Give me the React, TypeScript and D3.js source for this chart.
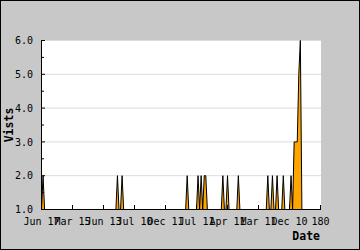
import React from "react";
import * as d3 from "d3";

const visits: number[] = [
  1, 2, 1, 1, 1, 1, 1, 1, 1, 1, 1, 1, 1, 1, 1, 1, 1, 1, 1, 1,
  1, 1, 1, 1, 1, 1, 1, 1, 1, 1, 1, 1, 1, 1, 1, 1, 1, 1, 1, 1,
  1, 1, 1, 1, 1, 1, 1, 1, 1, 2, 1, 1, 2, 1, 1, 1, 1, 1, 1, 1,
  1, 1, 1, 1, 1, 1, 1, 1, 1, 1, 1, 1, 1, 1, 1, 1, 1, 1, 1, 1,
  1, 1, 1, 1, 1, 1, 1, 1, 1, 1, 1, 1, 1, 1, 2, 1, 1, 1, 1, 1,
  1, 2, 1, 2, 1, 2, 2, 1, 1, 1, 1, 1, 1, 1, 1, 1, 1, 2, 1, 1,
  2, 1, 1, 1, 1, 1, 1, 2, 1, 1, 1, 1, 1, 1, 1, 1, 1, 1, 1, 1,
  1, 1, 1, 1, 1, 1, 2, 1, 1, 2, 1, 1, 2, 1, 1, 1, 2, 1, 1, 1,
  1, 2, 1, 3, 3, 3, 5, 6, 1,
];

const xTickValues: number[] = [0, 20, 40, 60, 80, 100, 120, 140, 160, 180];
const xTickLabels: string[] = [
  "Jun 17", "Mar 15", "Jun 13", "Jul 10", "Dec 11",
  "Jul 11", "Apr 11", "Mar 11", "Dec 10", "180",
];
const yTickValues: number[] = [1, 2, 3, 4, 5, 6];
const yMinorValues: number[] = [1.5, 2.5, 3.5, 4.5, 5.5];
const yTitle = "Vists";
const xTitle = "Date";

export default function App() {
  const W = 360;
  const H = 250;
  const x = d3.scaleLinear().domain([0, 180]).range([41.5, 320.5]);
  const y = d3.scaleLinear().domain([1, 6]).range([209.5, 40.5]);
  const pts = visits.map((v, i) => [i, v] as [number, number]);
  const area = d3
    .area<[number, number]>()
    .x((d) => x(d[0]))
    .y0(y(1))
    .y1((d) => y(d[1]));
  const line = d3
    .line<[number, number]>()
    .x((d) => x(d[0]))
    .y((d) => y(d[1]));
  const font = "'DejaVu Sans Mono', monospace";

  return (
    <svg
      width={W}
      height={H}
      style={{ position: "absolute", left: 0, top: 0 }}
      xmlns="http://www.w3.org/2000/svg"
    >
      <rect x={0} y={0} width={W} height={H} fill="#c8c8c8" />
      <rect x={0.5} y={0.5} width={W - 1} height={H - 1} fill="none" stroke="#000" />
      <rect x={41} y={40} width={280} height={170} fill="#fff" />
      {yTickValues.slice(1).map((v) => (
        <line key={"g" + v} x1={41} x2={321} y1={y(v)} y2={y(v)} stroke="#dcdcdc" />
      ))}
      <path d={area(pts) || ""} fill="#ffa500" />
      <path d={line(pts) || ""} fill="none" stroke="#000" strokeWidth={1} />
      {/* axes */}
      <line x1={41.5} x2={41.5} y1={40} y2={210} stroke="#000" />
      <line x1={41} x2={321} y1={209.5} y2={209.5} stroke="#000" />
      {yTickValues.map((v) => (
        <g key={"yt" + v}>
          <line x1={41} x2={45} y1={y(v)} y2={y(v)} stroke="#000" />
          <text
            x={33}
            y={y(v)}
            dy="0.36em"
            textAnchor="end"
            fontFamily={font}
            fontSize={10}
            fill="#000"
          >
            {v.toFixed(1)}
          </text>
        </g>
      ))}
      {yMinorValues.map((v) => (
        <line key={"ym" + v} x1={41} x2={44} y1={y(v)} y2={y(v)} stroke="#000" />
      ))}
      {xTickValues.map((v, i) => (
        <g key={"xt" + v}>
          <line x1={x(v)} x2={x(v)} y1={210} y2={205} stroke="#000" />
          <text
            x={x(v)}
            y={224.5}
            textAnchor="middle"
            fontFamily={font}
            fontSize={10}
            fill="#000"
          >
            {xTickLabels[i]}
          </text>
        </g>
      ))}
      <text
        x={320}
        y={240}
        textAnchor="end"
        fontFamily={font}
        fontWeight="bold"
        fontSize={11.5}
        fill="#000"
      >
        {xTitle}
      </text>
      <text
        transform="translate(13,125) rotate(-90)"
        textAnchor="middle"
        fontFamily={font}
        fontWeight="bold"
        fontSize={11.5}
        fill="#000"
      >
        {yTitle}
      </text>
    </svg>
  );
}
